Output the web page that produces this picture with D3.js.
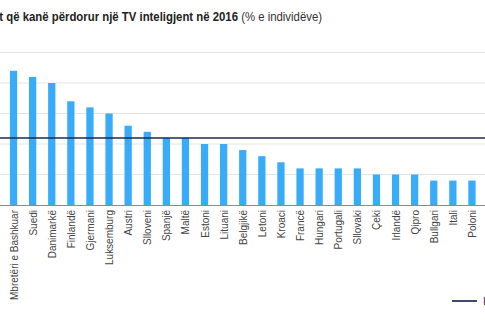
<!DOCTYPE html>
<html>
<head>
<meta charset="utf-8">
<script src="https://cdn.jsdelivr.net/npm/d3@7"></script>
<style>
  html, body { margin: 0; padding: 0; background: #fff; overflow: hidden; }
  svg { display: block; }
  text { font-family: "Liberation Sans Narrow", "Arial Narrow", "Liberation Sans", Arial, sans-serif; }
</style>
</head>
<body>
<svg id="chart" width="485" height="325"></svg>
<script>
// Countries, sorted by share of individuals who used a smart TV
const countries = [
  "Mbretëri e Bashkuar", "Suedi", "Danimarkë", "Finlandë", "Gjermani",
  "Luksemburg", "Austri", "Slloveni", "Spanjë", "Maltë", "Estoni",
  "Lituani", "Belgjikë", "Letoni", "Kroaci", "Francë", "Hungari",
  "Portugali", "Sllovaki", "Çeki", "Irlandë", "Qipro", "Bullgari",
  "Itali", "Poloni"
];
// Share of individuals (%), 2016
const shares = [22, 21, 20, 17, 16, 15, 13, 12, 11, 11, 10, 10, 9, 8, 7, 6, 6, 6, 6, 5, 5, 5, 4, 4, 4];
// EU average (%)
const euAverage = 11;
const gridTicks = [5, 10, 15, 20, 25];

const titleBold = "Individët që kanë përdorur një TV inteligjent në 2016";
const titleUnit = " (% e individëve)";
const legendLabel = "EU";

const W = 485, H = 325;
const svg = d3.select("#chart");

const x = d3.scaleBand()
  .domain(countries)
  .range([4, 481.5])
  .paddingInner(0.62)
  .paddingOuter(0.31);

const y = d3.scaleLinear()
  .domain([0, 25])
  .range([205, 52.5]);

// Horizontal gridlines
svg.append("g")
  .selectAll("line")
  .data(gridTicks)
  .join("line")
  .attr("x1", 0).attr("x2", W)
  .attr("y1", d => y(d)).attr("y2", d => y(d))
  .attr("stroke", "#e4e4e4")
  .attr("stroke-width", 1);

// Bars
svg.append("g")
  .selectAll("rect")
  .data(countries.map((c, i) => ({ c, v: shares[i] })))
  .join("rect")
  .attr("x", d => x(d.c))
  .attr("width", x.bandwidth())
  .attr("y", d => y(d.v))
  .attr("height", d => y(0) - y(d.v))
  .attr("fill", "#38acf8");

// Baseline
svg.append("line")
  .attr("x1", 0).attr("x2", W)
  .attr("y1", y(0) + 0.5).attr("y2", y(0) + 0.5)
  .attr("stroke", "#8a8a8a")
  .attr("stroke-width", 1);

// EU average line
svg.append("line")
  .attr("x1", 0).attr("x2", W)
  .attr("y1", y(euAverage)).attr("y2", y(euAverage))
  .attr("stroke", "#1c2856")
  .attr("stroke-width", 1.5);

// Category axis labels, rotated and condensed
const xAxis = d3.axisBottom(x).tickSize(0).tickPadding(0);
const gx = svg.append("g")
  .attr("transform", `translate(0,${y(0)})`)
  .call(xAxis);
gx.select(".domain").remove();
gx.selectAll("text")
  .attr("transform", "rotate(-90) scale(0.87,1)")
  .attr("text-anchor", "end")
  .attr("x", -5 / 0.87)
  .attr("y", 0)
  .attr("dy", "0.35em")
  .attr("fill", "#444")
  .style("font-size", "11.5px")
  .style("font-family", "'Liberation Sans Narrow', 'Arial Narrow', 'Liberation Sans', Arial, sans-serif");

// Title (condensed)
const title = svg.append("text")
  .attr("transform", "translate(322,21) scale(0.91,1)")
  .attr("text-anchor", "end")
  .style("font-size", "12.5px")
  .attr("fill", "#222");
title.append("tspan").attr("font-weight", "bold").text(titleBold);
title.append("tspan").attr("fill", "#333").text(titleUnit);

// Legend
svg.append("line")
  .attr("x1", 452).attr("x2", 477)
  .attr("y1", 301).attr("y2", 301)
  .attr("stroke", "#3f4a6e")
  .attr("stroke-width", 2);
svg.append("text")
  .attr("x", 483)
  .attr("y", 301)
  .attr("dy", "0.35em")
  .style("font-size", "11.5px")
  .attr("fill", "#444")
  .text(legendLabel);
</script>
</body>
</html>
